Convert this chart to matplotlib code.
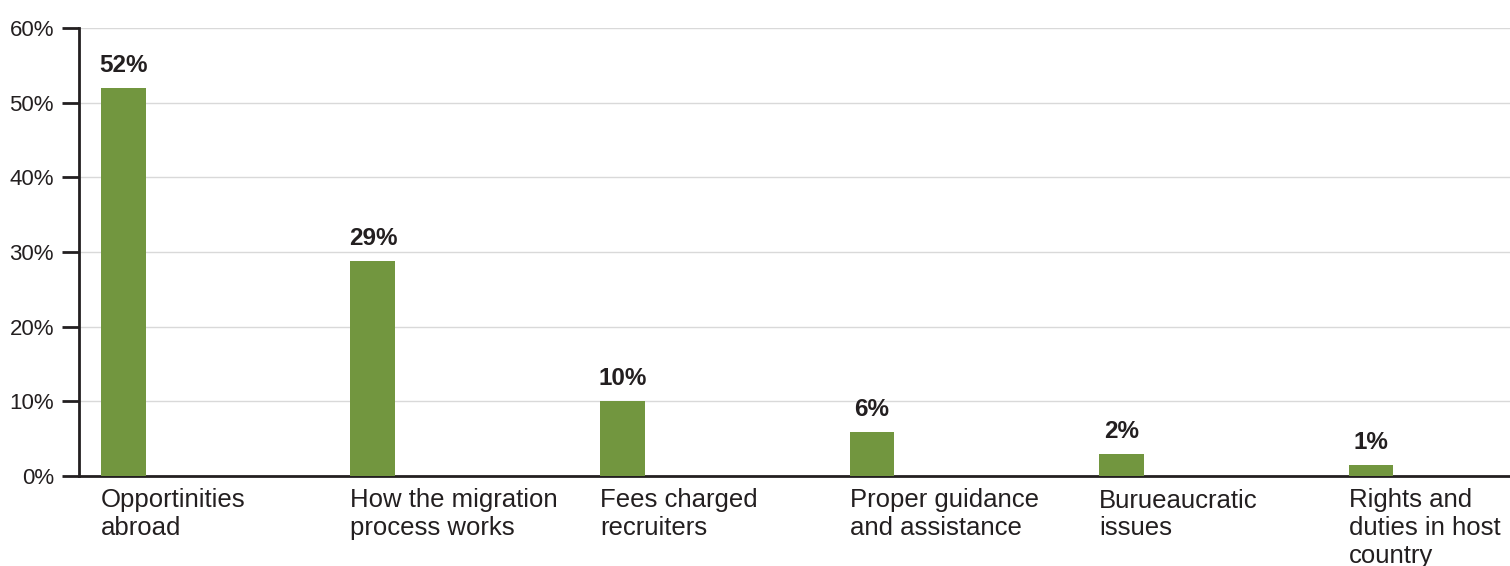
import matplotlib
matplotlib.use("Agg")
import matplotlib.pyplot as plt
import numpy as np

categories = ["Opportinities\nabroad", "How the migration\nprocess works", "Fees charged\nrecruiters",
              "Proper guidance\nand assistance", "Burueaucratic\nissues", "Rights and\nduties in host\ncountry"]
values = [52.0, 28.8, 10.0, 5.9, 2.9, 1.5]
value_labels = ["52%", "29%", "10%", "6%", "2%", "1%"]
yticks = [0, 10, 20, 30, 40, 50, 60]
ytick_labels = ["0%", "10%", "20%", "30%", "40%", "50%", "60%"]

plt.rcParams['font.family'] = ['Liberation Sans', 'DejaVu Sans']
dark = '#231f20'
fig = plt.figure(figsize=(15.10, 5.66), dpi=100)
ax = fig.add_axes([79/1510, 90/566, 1 - 79/1510, 448/566])

x = np.arange(len(categories))
bw = 0.18
ax.bar(x, values, width=bw, align='edge', color='#72963F', zorder=3)
for xi, v, lab in zip(x, values, value_labels):
    ax.annotate(lab, (xi + bw/2, v), xytext=(0, 8), textcoords='offset points',
                ha='center', va='bottom', fontsize=17.5, fontweight='bold', color=dark)

ax.set_ylim(0, 60)
ax.set_xlim(-0.088, 5.647)
ax.set_yticks(yticks)
ax.set_yticklabels(ytick_labels, fontsize=16, color=dark)
ax.set_xticks(x)
ax.set_xticklabels(categories, fontsize=18.5, color=dark, ha='left', va='top', linespacing=1.2)
ax.tick_params(axis='x', length=0, pad=9)
ax.tick_params(axis='y', length=12, width=2, color=dark, pad=6, direction='out')
ax.grid(axis='y', color='#d9d9d9', linewidth=1, zorder=0)
for s in ['top', 'right']:
    ax.spines[s].set_visible(False)
ax.spines['left'].set_color(dark)
ax.spines['left'].set_linewidth(2)
ax.spines['bottom'].set_color(dark)
ax.spines['bottom'].set_linewidth(2)

fig.savefig("out.png", dpi=100)
